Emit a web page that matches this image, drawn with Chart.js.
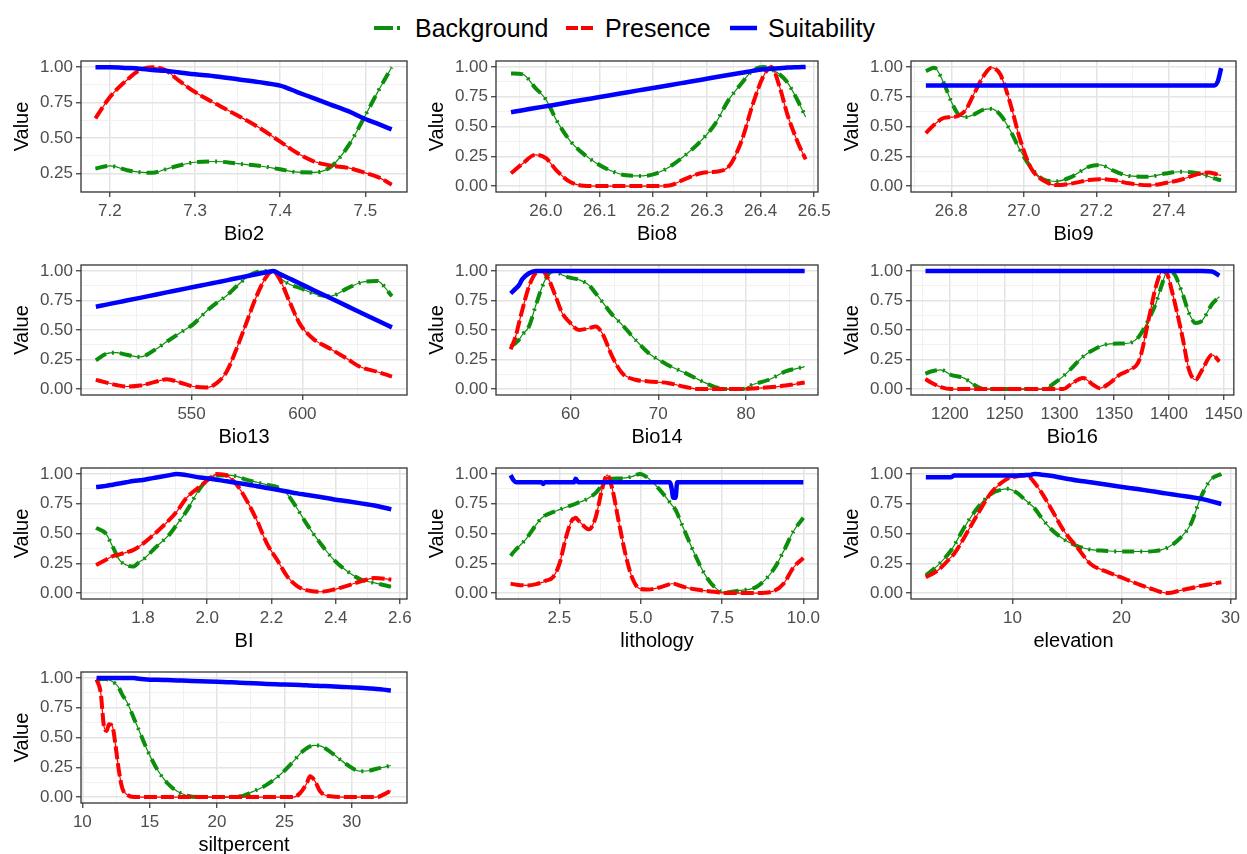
<!DOCTYPE html>
<html>
<head>
<meta charset="utf-8">
<script src="https://cdn.jsdelivr.net/npm/chart.js@4.4.1/dist/chart.umd.min.js"></script>
<style>
  html, body { margin:0; padding:0; background:#fff; }
  body { width:1247px; height:854px; overflow:hidden; position:relative; font-family:"Liberation Sans", Arial, sans-serif; }
  canvas { position:absolute; }
  .lg { position:absolute; top:13px; height:30px; line-height:30px; font-size:25px; color:#000; white-space:nowrap; }
  .lg svg { position:absolute; top:11px; left:0; }
</style>
</head>
<body>
<div class="lg" style="left:374px;width:30px"><svg width="30" height="8"><line x1="0" y1="4" x2="30" y2="4" stroke="#0b8f0b" stroke-width="4" stroke-dasharray="19 4 3 30"/></svg></div>
<div class="lg" style="left:415px">Background</div>
<div class="lg" style="left:566px;width:28px"><svg width="28" height="8"><line x1="0" y1="4" x2="27" y2="4" stroke="#ff0000" stroke-width="4" stroke-dasharray="12 3 12 3"/></svg></div>
<div class="lg" style="left:605px">Presence</div>
<div class="lg" style="left:730px;width:28px"><svg width="28" height="8"><line x1="0" y1="4" x2="27" y2="4" stroke="#0000ff" stroke-width="4.5"/></svg></div>
<div class="lg" style="left:768px">Suitability</div>
<script>
// ---------------- DATA ----------------
const seriesNames = ['Background', 'Presence', 'Suitability'];
const yTicks = [0, 0.25, 0.5, 0.75, 1.0];
const yTickLabels = ['0.00', '0.25', '0.50', '0.75', '1.00'];

const bio2_x = [7.183, 7.2, 7.22, 7.235, 7.25, 7.265, 7.28, 7.3, 7.325, 7.35, 7.375, 7.4, 7.42, 7.44, 7.46, 7.48, 7.5, 7.515, 7.531];
const bio2_background = [0.286, 0.304, 0.274, 0.26, 0.255, 0.28, 0.305, 0.33, 0.335, 0.32, 0.305, 0.28, 0.26, 0.258, 0.30, 0.445, 0.66, 0.83, 1.0];
const bio2_presence = [0.64, 0.79, 0.91, 0.98, 1.0, 0.98, 0.91, 0.825, 0.74, 0.66, 0.575, 0.475, 0.395, 0.335, 0.305, 0.29, 0.255, 0.225, 0.172];
const bio2_suitability = [1.0, 1.0, 0.995, 0.99, 0.98, 0.975, 0.965, 0.95, 0.935, 0.915, 0.895, 0.87, 0.825, 0.78, 0.735, 0.69, 0.635, 0.6, 0.562];
const bio2_ticks = [7.2, 7.3, 7.4, 7.5];
const bio2_tickLabels = ['7.2', '7.3', '7.4', '7.5'];

const bio8_x = [25.935, 25.957, 25.98, 26.0, 26.02, 26.045, 26.07, 26.095, 26.12, 26.15, 26.18, 26.205, 26.23, 26.26, 26.29, 26.315, 26.34, 26.365, 26.385, 26.405, 26.42, 26.435, 26.45, 26.47, 26.484];
const bio8_background = [0.946, 0.938, 0.825, 0.727, 0.55, 0.38, 0.27, 0.19, 0.13, 0.09, 0.085, 0.105, 0.16, 0.26, 0.385, 0.52, 0.72, 0.865, 0.97, 1.0, 0.98, 0.94, 0.87, 0.71, 0.58];
const bio8_presence = [0.107, 0.19, 0.262, 0.234, 0.13, 0.035, 0.003, 0, 0, 0, 0, 0, 0.005, 0.06, 0.11, 0.12, 0.16, 0.385, 0.68, 0.92, 1.0, 0.84, 0.6, 0.36, 0.225];
const bio8_suitability = [0.62, 0.637, 0.655, 0.67, 0.685, 0.705, 0.724, 0.743, 0.762, 0.786, 0.809, 0.828, 0.847, 0.87, 0.893, 0.913, 0.932, 0.951, 0.967, 0.98, 0.985, 0.99, 0.995, 0.998, 1.0];
const bio8_ticks = [26.0, 26.1, 26.2, 26.3, 26.4, 26.5];
const bio8_tickLabels = ['26.0', '26.1', '26.2', '26.3', '26.4', '26.5'];

const bio9_x = [26.73, 26.753, 26.78, 26.8, 26.82, 26.84, 26.862, 26.889, 26.91, 26.935, 26.962, 26.99, 27.02, 27.055, 27.09, 27.13, 27.18, 27.21, 27.25, 27.29, 27.345, 27.39, 27.435, 27.48, 27.51, 27.525, 27.535, 27.544];
const bio9_background = [0.966, 0.994, 0.86, 0.71, 0.6, 0.58, 0.6, 0.642, 0.648, 0.6, 0.47, 0.3, 0.155, 0.055, 0.04, 0.075, 0.163, 0.177, 0.125, 0.085, 0.079, 0.105, 0.12, 0.107, 0.08, 0.065, 0.055, 0.05];
const bio9_presence = [0.445, 0.515, 0.572, 0.578, 0.59, 0.64, 0.77, 0.924, 0.994, 0.938, 0.7, 0.389, 0.15, 0.045, 0.008, 0.02, 0.05, 0.058, 0.048, 0.023, 0.006, 0.025, 0.055, 0.1, 0.113, 0.105, 0.095, 0.09];
const bio9_suitability = [0.845, 0.845, 0.845, 0.845, 0.845, 0.845, 0.845, 0.845, 0.845, 0.845, 0.845, 0.845, 0.845, 0.845, 0.845, 0.845, 0.845, 0.845, 0.845, 0.845, 0.845, 0.845, 0.845, 0.845, 0.845, 0.845, 0.88, 0.99];
const bio9_ticks = [26.8, 27.0, 27.2, 27.4];
const bio9_tickLabels = ['26.8', '27.0', '27.2', '27.4'];

const bio13_x = [506.8, 511.6, 516, 520.6, 526.7, 534.2, 538.7, 544.7, 550.8, 556.8, 561.3, 565.8, 570.3, 574.8, 579.3, 583.8, 586.9, 589.9, 594.4, 598.9, 604.9, 612.5, 620, 626, 633.6, 640.4];
const bio13_background = [0.244, 0.3, 0.308, 0.29, 0.272, 0.342, 0.40, 0.475, 0.55, 0.661, 0.73, 0.79, 0.87, 0.945, 0.99, 1.0, 1.0, 0.94, 0.885, 0.856, 0.81, 0.786, 0.85, 0.9, 0.915, 0.786];
const bio13_presence = [0.078, 0.055, 0.035, 0.022, 0.03, 0.064, 0.083, 0.056, 0.022, 0.014, 0.05, 0.147, 0.342, 0.564, 0.786, 0.953, 1.0, 0.925, 0.731, 0.55, 0.425, 0.342, 0.258, 0.189, 0.147, 0.106];
const bio13_suitability = [0.697, 0.715, 0.732, 0.749, 0.772, 0.801, 0.818, 0.84, 0.864, 0.886, 0.903, 0.92, 0.938, 0.955, 0.972, 0.988, 1.0, 0.973, 0.933, 0.893, 0.839, 0.771, 0.704, 0.65, 0.582, 0.522];
const bio13_ticks = [550, 600];
const bio13_tickLabels = ['550', '600'];

const bio14_x = [53.17, 53.74, 54.12, 54.5, 55.26, 56.0, 56.77, 57.53, 58.3, 59.05, 59.8, 60.95, 62.1, 62.85, 63.6, 64.74, 65.88, 67.4, 68.9, 71.2, 73.1, 74.6, 76.5, 78.04, 79.5, 80.7, 82.6, 84.5, 86.68];
const bio14_background = [0.36, 0.39, 0.417, 0.46, 0.53, 0.7, 0.868, 0.98, 1.0, 0.965, 0.945, 0.925, 0.88, 0.811, 0.74, 0.63, 0.544, 0.417, 0.304, 0.2, 0.135, 0.08, 0.017, 0, 0, 0.037, 0.079, 0.149, 0.19];
const bio14_presence = [0.338, 0.445, 0.56, 0.67, 0.868, 0.98, 1.0, 0.924, 0.783, 0.642, 0.572, 0.501, 0.515, 0.53, 0.473, 0.276, 0.135, 0.079, 0.065, 0.05, 0.017, 0, 0, 0, 0, 0.005, 0.015, 0.03, 0.056];
const bio14_suitability = [0.81, 0.85, 0.88, 0.93, 0.98, 1, 1, 1, 1, 1, 1, 1, 1, 1, 1, 1, 1, 1, 1, 1, 1, 1, 1, 1, 1, 1, 1, 1, 1];
const bio14_ticks = [60, 70, 80];
const bio14_tickLabels = ['60', '70', '80'];

const bio16_x = [1177.7, 1182.8, 1191.8, 1200.9, 1213, 1222, 1231, 1250, 1285, 1297.5, 1303.6, 1309.6, 1321.7, 1330.7, 1336.8, 1345.8, 1354.8, 1363.9, 1373, 1382, 1388.1, 1394.1, 1398, 1403.2, 1412.2, 1418.3, 1424.3, 1430.3, 1439.4, 1446];
const bio16_background = [0.13, 0.149, 0.163, 0.121, 0.093, 0.037, 0, 0, 0, 0.065, 0.11, 0.163, 0.276, 0.33, 0.36, 0.383, 0.385, 0.39, 0.45, 0.6, 0.727, 0.9, 0.99, 0.986, 0.811, 0.642, 0.56, 0.58, 0.72, 0.783];
const bio16_presence = [0.085, 0.056, 0.017, 0, 0, 0, 0, 0, 0, 0, 0, 0.035, 0.093, 0.037, 0.008, 0.05, 0.121, 0.163, 0.248, 0.614, 0.868, 1.0, 0.98, 0.811, 0.445, 0.163, 0.079, 0.163, 0.29, 0.234];
const bio16_suitability = [1, 1, 1, 1, 1, 1, 1, 1, 1, 1, 1, 1, 1, 1, 1, 1, 1, 1, 1, 1, 1, 1, 1, 1, 1, 1, 1, 1, 0.995, 0.96];
const bio16_ticks = [1200, 1250, 1300, 1350, 1400, 1450];
const bio16_tickLabels = ['1200', '1250', '1300', '1350', '1400', '1450'];

const bi_x = [1.654, 1.685, 1.706, 1.727, 1.748, 1.769, 1.79, 1.8, 1.831, 1.842, 1.884, 1.904, 1.936, 1.978, 2.009, 2.03, 2.061, 2.092, 2.124, 2.155, 2.186, 2.218, 2.249, 2.28, 2.312, 2.353, 2.395, 2.437, 2.479, 2.521, 2.573];
const bi_background = [0.547, 0.497, 0.387, 0.277, 0.236, 0.223, 0.264, 0.28, 0.36, 0.39, 0.497, 0.57, 0.69, 0.882, 0.97, 0.986, 0.99, 0.98, 0.95, 0.93, 0.909, 0.89, 0.83, 0.71, 0.57, 0.415, 0.277, 0.181, 0.113, 0.085, 0.052];
const bi_presence = [0.236, 0.28, 0.31, 0.325, 0.341, 0.36, 0.395, 0.415, 0.485, 0.511, 0.62, 0.68, 0.8, 0.896, 0.964, 1.0, 0.986, 0.909, 0.772, 0.607, 0.415, 0.277, 0.14, 0.058, 0.022, 0.011, 0.03, 0.063, 0.099, 0.126, 0.113];
const bi_suitability = [0.89, 0.9, 0.91, 0.92, 0.93, 0.94, 0.947, 0.95, 0.965, 0.97, 0.99, 1.0, 0.99, 0.97, 0.96, 0.952, 0.938, 0.925, 0.912, 0.897, 0.882, 0.867, 0.852, 0.837, 0.824, 0.806, 0.786, 0.77, 0.753, 0.735, 0.703];
const bi_ticks = [1.8, 2.0, 2.2, 2.4, 2.6];
const bi_tickLabels = ['1.8', '2.0', '2.2', '2.4', '2.6'];

const lith_x = [1, 1.08, 1.18, 1.49, 1.79, 1.95, 2.0, 2.05, 2.3, 2.5, 2.7, 2.9, 2.95, 3.0, 3.08, 3.2, 3.41, 3.61, 3.82, 3.97, 4.12, 4.32, 4.53, 4.73, 4.98, 5.23, 5.54, 5.9, 5.95, 6.0, 6.07, 6.12, 6.35, 6.66, 6.96, 7.27, 7.57, 8.08, 8.58, 9.09, 9.39, 9.7, 10];
const lith_background = [0.313, 0.34, 0.37, 0.46, 0.576, 0.63, 0.64, 0.65, 0.68, 0.7, 0.72, 0.74, 0.745, 0.75, 0.76, 0.77, 0.8, 0.839, 0.909, 0.95, 0.96, 0.962, 0.967, 0.978, 1.0, 0.964, 0.881, 0.76, 0.74, 0.725, 0.7, 0.67, 0.521, 0.327, 0.161, 0.05, 0.005, 0.022, 0.055, 0.2, 0.35, 0.521, 0.632];
const lith_presence = [0.078, 0.075, 0.07, 0.064, 0.075, 0.088, 0.091, 0.1, 0.133, 0.244, 0.465, 0.618, 0.625, 0.632, 0.61, 0.576, 0.535, 0.632, 0.881, 0.992, 0.881, 0.604, 0.327, 0.133, 0.035, 0.03, 0.045, 0.075, 0.078, 0.078, 0.075, 0.07, 0.05, 0.032, 0.02, 0.01, 0, 0, 0, 0.017, 0.078, 0.216, 0.294];
const lith_suitability = [0.99, 0.95, 0.93, 0.93, 0.93, 0.93, 0.915, 0.93, 0.93, 0.93, 0.93, 0.93, 0.93, 0.96, 0.93, 0.93, 0.93, 0.93, 0.93, 0.93, 0.93, 0.93, 0.93, 0.93, 0.93, 0.93, 0.93, 0.93, 0.88, 0.8, 0.8, 0.93, 0.93, 0.93, 0.93, 0.93, 0.93, 0.93, 0.93, 0.93, 0.93, 0.93, 0.93];
const lith_ticks = [2.5, 5.0, 7.5, 10.0];
const lith_tickLabels = ['2.5', '5.0', '7.5', '10.0'];

const elev_x = [2.06, 3.13, 4.35, 4.66, 5.57, 6.79, 8.02, 8.93, 9.54, 10.46, 11.07, 11.68, 12.0, 12.6, 13.51, 14.73, 15.95, 17.17, 18.4, 19.92, 21.45, 22.98, 24.2, 25.42, 26.34, 27.25, 28.17, 29.15];
const elev_background = [0.147, 0.23, 0.355, 0.4, 0.548, 0.715, 0.831, 0.867, 0.875, 0.839, 0.79, 0.742, 0.715, 0.64, 0.54, 0.45, 0.395, 0.365, 0.355, 0.349, 0.349, 0.352, 0.38, 0.465, 0.576, 0.798, 0.95, 1.0];
const elev_presence = [0.133, 0.188, 0.299, 0.33, 0.465, 0.659, 0.839, 0.922, 0.96, 0.98, 0.986, 0.964, 0.93, 0.853, 0.715, 0.521, 0.382, 0.244, 0.188, 0.133, 0.078, 0.028, 0, 0.022, 0.04, 0.06, 0.075, 0.091];
const elev_suitability = [0.972, 0.972, 0.972, 0.986, 0.986, 0.986, 0.986, 0.986, 0.986, 0.988, 0.99, 0.992, 1.0, 0.995, 0.985, 0.964, 0.945, 0.93, 0.914, 0.893, 0.873, 0.852, 0.835, 0.818, 0.806, 0.793, 0.772, 0.748];
const elev_ticks = [10, 20, 30];
const elev_tickLabels = ['10', '20', '30'];

const silt_x = [11.06, 11.36, 11.6, 11.8, 11.98, 12.22, 12.47, 12.7, 12.96, 13.33, 13.83, 14.07, 14.8, 15.56, 16.3, 17.04, 17.78, 18.77, 20, 21.7, 22.7, 23.7, 24.7, 25.68, 26.17, 26.67, 26.9, 27.28, 27.65, 28.4, 29.63, 30.62, 31.36, 31.85, 32.35, 32.9];
const silt_background = [0.986, 0.99, 0.992, 0.99, 0.985, 0.97, 0.95, 0.92, 0.86, 0.794, 0.66, 0.597, 0.4, 0.231, 0.118, 0.048, 0.011, 0, 0, 0.006, 0.048, 0.104, 0.189, 0.301, 0.365, 0.41, 0.425, 0.434, 0.43, 0.38, 0.273, 0.217, 0.223, 0.238, 0.25, 0.265];
const silt_presence = [0.986, 0.879, 0.597, 0.555, 0.611, 0.597, 0.428, 0.231, 0.076, 0.02, 0, 0, 0, 0, 0, 0, 0, 0, 0, 0, 0, 0, 0, 0, 0.034, 0.118, 0.175, 0.132, 0.048, 0.006, 0, 0, 0, 0, 0.02, 0.054];
const silt_suitability = [1, 1, 1, 1, 1, 1, 1, 1, 1, 1, 1, 0.995, 0.988, 0.985, 0.982, 0.979, 0.976, 0.972, 0.969, 0.96, 0.955, 0.949, 0.946, 0.943, 0.941, 0.938, 0.937, 0.935, 0.933, 0.93, 0.923, 0.917, 0.912, 0.908, 0.902, 0.893];
const silt_ticks = [10, 15, 20, 25, 30];
const silt_tickLabels = ['10', '15', '20', '25', '30'];

// ---------------- LAYOUT / STYLE ----------------
const FONT = '"Liberation Sans", Arial, sans-serif';
const COL_GREEN = '#0b8f0b', COL_RED = '#ff0000', COL_BLUE = '#0000ff';
const cols = [{l: 81, r: 407, pad: 16}, {l: 496, r: 818, pad: 20}, {l: 911, r: 1236, pad: 11}];
const rows = [{t: 61, b: 192}, {t: 265, b: 395}, {t: 468, b: 599}, {t: 672, b: 803}];
const Y_AXIS_W = 71, X_AXIS_H = 54, TOP_PAD = 14;

const panels = [
  {title: 'Bio2', x: bio2_x, bg: bio2_background, pr: bio2_presence, su: bio2_suitability, t: bio2_ticks, tl: bio2_tickLabels, xr: [7.166, 7.549], yr: [0.12, 1.044], c: 0, r: 0},
  {title: 'Bio8', x: bio8_x, bg: bio8_background, pr: bio8_presence, su: bio8_suitability, t: bio8_ticks, tl: bio8_tickLabels, xr: [25.907, 26.507], yr: [-0.05, 1.05], c: 1, r: 0},
  {title: 'Bio9', x: bio9_x, bg: bio9_background, pr: bio9_presence, su: bio9_suitability, t: bio9_ticks, tl: bio9_tickLabels, xr: [26.689, 27.585], yr: [-0.05, 1.05], c: 2, r: 0},
  {title: 'Bio13', x: bio13_x, bg: bio13_background, pr: bio13_presence, su: bio13_suitability, t: bio13_ticks, tl: bio13_tickLabels, xr: [500.1, 647.2], yr: [-0.05, 1.05], c: 0, r: 1},
  {title: 'Bio14', x: bio14_x, bg: bio14_background, pr: bio14_presence, su: bio14_suitability, t: bio14_ticks, tl: bio14_tickLabels, xr: [51.5, 88.2], yr: [-0.05, 1.05], c: 1, r: 1},
  {title: 'Bio16', x: bio16_x, bg: bio16_background, pr: bio16_presence, su: bio16_suitability, t: bio16_ticks, tl: bio16_tickLabels, xr: [1164.5, 1459.2], yr: [-0.05, 1.05], c: 2, r: 1},
  {title: 'BI', x: bi_x, bg: bi_background, pr: bi_presence, su: bi_suitability, t: bi_ticks, tl: bi_tickLabels, xr: [1.607, 2.622], yr: [-0.05, 1.05], c: 0, r: 2},
  {title: 'lithology', x: lith_x, bg: lith_background, pr: lith_presence, su: lith_suitability, t: lith_ticks, tl: lith_tickLabels, xr: [0.55, 10.45], yr: [-0.05, 1.05], c: 1, r: 2},
  {title: 'elevation', x: elev_x, bg: elev_background, pr: elev_presence, su: elev_suitability, t: elev_ticks, tl: elev_tickLabels, xr: [0.7, 30.5], yr: [-0.05, 1.05], c: 2, r: 2},
  {title: 'siltpercent', x: silt_x, bg: silt_background, pr: silt_presence, su: silt_suitability, t: silt_ticks, tl: silt_tickLabels, xr: [9.9, 34.1], yr: [-0.05, 1.05], c: 0, r: 3}
];

function buildTicks(major, labels, min, max) {
  const eps = 1e-9;
  const step = major.length > 1 ? major[1] - major[0] : 1;
  const out = [];
  const add = (v, lbl, maj) => { if (v >= min - eps && v <= max + eps) out.push({value: v, lbl: lbl, maj: maj}); };
  add(major[0] - step / 2, '', false);
  major.forEach((v, i) => {
    add(v, labels[i], true);
    if (i < major.length - 1) add((v + major[i + 1]) / 2, '', false);
  });
  add(major[major.length - 1] + step / 2, '', false);
  return out;
}

const framePlugin = {
  id: 'frame',
  beforeDraw(chart) {
    const a = chart.chartArea, ctx = chart.ctx;
    ctx.save(); ctx.fillStyle = '#ffffff';
    ctx.fillRect(a.left, a.top, a.right - a.left, a.bottom - a.top);
    ctx.restore();
  },
  afterDraw(chart) {
    const a = chart.chartArea, ctx = chart.ctx;
    ctx.save(); ctx.strokeStyle = '#333333'; ctx.lineWidth = 1.3;
    ctx.strokeRect(a.left, a.top, a.right - a.left, a.bottom - a.top);
    ctx.restore();
  }
};

function gridStyle() {
  return {
    color: c => (c.tick && c.tick.maj) ? '#e4e4e4' : '#efefef',
    lineWidth: c => (c.tick && c.tick.maj) ? 1.5 : 0.9,
    tickColor: c => (c.tick && c.tick.maj) ? '#333333' : 'rgba(0,0,0,0)',
    tickLength: 5,
    tickWidth: 1.2,
    drawTicks: true
  };
}

function pts(xs, ys) { return xs.map((x, i) => ({x: x, y: ys[i]})); }

panels.forEach(p => {
  const col = cols[p.c], row = rows[p.r];
  const cv = document.createElement('canvas');
  const w = (col.r - col.l) + Y_AXIS_W + col.pad;
  const h = (row.b - row.t) + TOP_PAD + X_AXIS_H;
  cv.width = w; cv.height = h;
  cv.style.width = w + 'px'; cv.style.height = h + 'px';
  cv.style.left = (col.l - Y_AXIS_W) + 'px';
  cv.style.top = (row.t - TOP_PAD) + 'px';
  document.body.appendChild(cv);

  const xt = buildTicks(p.t, p.tl, p.xr[0], p.xr[1]);
  const yt = buildTicks(yTicks, yTickLabels, p.yr[0], p.yr[1]);
  const base = {pointRadius: 0, fill: false, cubicInterpolationMode: 'monotone', borderCapStyle: 'butt', borderJoinStyle: 'round'};

  new Chart(cv, {
    type: 'line',
    data: {
      datasets: [
        Object.assign({label: seriesNames[2], data: pts(p.x, p.su), borderColor: COL_BLUE, borderWidth: 4.5}, base),
        Object.assign({label: seriesNames[1], data: pts(p.x, p.pr), borderColor: COL_RED, borderWidth: 4, borderDash: [13, 4]}, base),
        Object.assign({label: seriesNames[1] + ' ', data: pts(p.x, p.pr), borderColor: COL_RED, borderWidth: 1.2}, base),
        Object.assign({label: seriesNames[0], data: pts(p.x, p.bg), borderColor: COL_GREEN, borderWidth: 4, borderDash: [12, 6, 2, 6]}, base),
        Object.assign({label: seriesNames[0] + ' ', data: pts(p.x, p.bg), borderColor: COL_GREEN, borderWidth: 1.2}, base)
      ]
    },
    options: {
      responsive: false,
      maintainAspectRatio: false,
      animation: false,
      devicePixelRatio: 1,
      layout: {padding: {top: TOP_PAD, right: col.pad, left: 0, bottom: 0}},
      plugins: {legend: {display: false}, tooltip: {enabled: false}},
      scales: {
        x: {
          type: 'linear', min: p.xr[0], max: p.xr[1],
          afterBuildTicks: s => { s.ticks = xt.map(t => Object.assign({}, t)); },
          afterFit: s => { s.height = X_AXIS_H; },
          ticks: {autoSkip: false, maxRotation: 0, minRotation: 0, padding: 4, color: '#4d4d4d', font: {size: 17, family: FONT},
                  callback: (v, i, ts) => ts[i].lbl},
          grid: gridStyle(),
          border: {display: false},
          title: {display: true, text: p.title, color: '#000000', font: {size: 20, family: FONT}, padding: {top: 0, bottom: 0}}
        },
        y: {
          type: 'linear', min: p.yr[0], max: p.yr[1],
          afterBuildTicks: s => { s.ticks = yt.map(t => Object.assign({}, t)); },
          afterFit: s => { s.width = Y_AXIS_W; },
          ticks: {autoSkip: false, padding: 3, color: '#4d4d4d', font: {size: 17, family: FONT},
                  callback: (v, i, ts) => ts[i].lbl},
          grid: gridStyle(),
          border: {display: false},
          title: {display: true, text: 'Value', color: '#000000', font: {size: 20, family: FONT}, padding: {top: 0, bottom: 0}}
        }
      }
    },
    plugins: [framePlugin]
  });
});
</script>
</body>
</html>
